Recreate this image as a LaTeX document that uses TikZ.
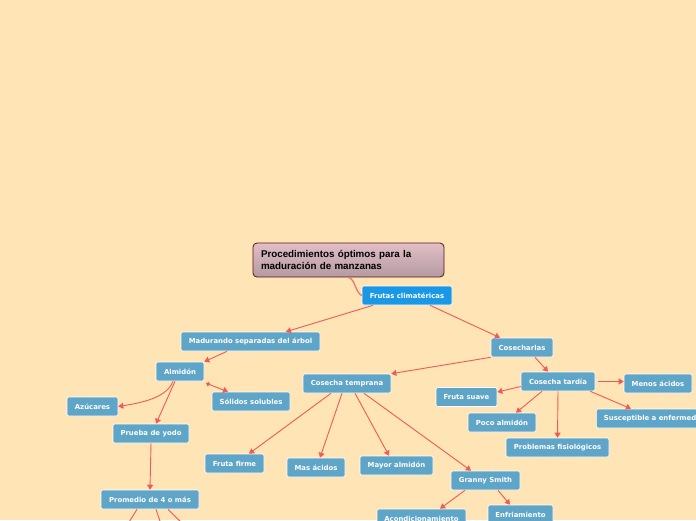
\documentclass[tikz,border=0pt]{standalone}
\usepackage{fontspec}
\setmainfont{DejaVu Sans}
\newfontfamily\titlefont{Liberation Sans}
\usetikzlibrary{arrows.meta,calc}
\definecolor{bgcol}{HTML}{FFE4B5}
\definecolor{nodeblue}{HTML}{5FA5C8}
\definecolor{topblue}{HTML}{1A98E6}
\definecolor{edgecol}{HTML}{F05A5A}
\definecolor{titletop}{HTML}{E2BEC6}
\definecolor{titlebot}{HTML}{B49AA2}
\definecolor{titleborder}{HTML}{5A1414}
\tikzset{
  box/.style={rectangle, rounded corners=2pt, fill=nodeblue, draw=white, line width=0.6pt,
    text=white, font=\fontsize{6.9}{8}\selectfont\bfseries, inner sep=0pt, minimum height=19pt},
  edge/.style={draw=edgecol, line width=0.9pt, -{Triangle[width=6pt,length=5pt]}},
  swoosh/.style={draw=edgecol!85!white, line width=1.3pt, line cap=round},
}
\begin{document}
\begin{tikzpicture}[x=1pt,y=-1pt]
\useasboundingbox (0,0) rectangle (696,520);
\clip (0,0) rectangle (696,520);
\fill[bgcol] (0,0) rectangle (696,520);

% title
\node[rectangle, rounded corners=4pt, top color=titletop, bottom color=titlebot, draw=titleborder,
  line width=0.8pt, minimum width=191pt, minimum height=34pt, inner xsep=8pt, inner ysep=0pt,
  text width=175pt, align=left, font=\titlefont\fontsize{9.8}{11.7}\selectfont\bfseries]
  (title) at (348.5,260) {Procedimientos óptimos para la\\maduración de manzanas};

\node[box, fill=topblue, minimum width=90pt] (frutas) at (407,295.5) {Frutas climatéricas};
\node[box, minimum width=139pt] (madur) at (250.5,341.5) {Madurando separadas del árbol};
\node[box, minimum width=62pt] (cosecharlas) at (522,347.5) {Cosecharlas};
\node[box, minimum width=48pt] (almidon) at (180,371.5) {Almidón};
\node[box, minimum width=78pt] (solidos) at (251,401.5) {Sólidos solubles};
\node[box, minimum width=88pt] (temprana) at (347,383.5) {Cosecha temprana};
\node[box, minimum width=61pt] (fsuave) at (466.5,397) {Fruta suave};
\node[box, minimum width=74pt] (tardia) at (558,381.5) {Cosecha tardía};
\node[box, minimum width=68pt] (menos) at (658,383.5) {Menos ácidos};
\node[box, minimum width=126pt, anchor=west] (suscept) at (596,418.5) {Susceptible a enfermedades};
\node[box, minimum width=68pt] (poco) at (502,422.5) {Poco almidón};
\node[box, minimum width=103pt] (problemas) at (557.5,447.5) {Problemas fisiológicos};
\node[box, minimum width=51pt] (azucares) at (92.5,406.5) {Azúcares};
\node[box, minimum width=76pt] (prueba) at (151,433.5) {Prueba de yodo};
\node[box, minimum width=59pt] (ffirme) at (234.5,463.5) {Fruta firme};
\node[box, minimum width=58pt] (masac) at (316,467.5) {Mas ácidos};
\node[box, minimum width=73pt] (mayor) at (396.5,465.5) {Mayor almidón};
\node[box, minimum width=69pt] (granny) at (485.5,480.5) {Granny Smith};
\node[box, minimum width=98pt] (promedio) at (150,499.5) {Promedio de 4 o más};
\node[box, minimum width=89pt] (acond) at (421.5,518.5) {Acondicionamiento};
\node[box, minimum width=65pt] (enfri) at (520.5,514.5) {Enfriamiento};

\coordinate (p1) at (126,527);
\coordinate (p2) at (162,527);
\coordinate (p3) at (186,527);

% connectors
\draw[swoosh] (title.south) .. controls +(7,2) and +(-7,-4) .. (frutas.west);
\draw[edge] ([xshift=-34pt]frutas.south) -- ([xshift=35.5pt]madur.north);
\draw[edge] ([xshift=23pt]frutas.south) -- ([xshift=-22pt]cosecharlas.north);
\draw[edge] ([xshift=-23.5pt]madur.south) -- (almidon.north east);
\draw[edge] ([xshift=-7pt]almidon.south) .. controls +(-6,16) and +(25,-4) .. (azucares.east);
\draw[edge] ([xshift=-5pt]almidon.south) -- ([xshift=5pt]prueba.north);
\draw[draw=edgecol, line width=0.9pt, {Circle[length=4pt]}-{Triangle[width=6pt,length=5pt]}]
  ([xshift=2pt,yshift=-2pt]almidon.south east) -- ([xshift=-23pt]solidos.north);
\draw[edge] (prueba.south) -- (promedio.north);
\draw[edge] ([xshift=-13pt]promedio.south) -- (p1);
\draw[edge] ([xshift=6pt]promedio.south) -- (p2);
\draw[edge] ([xshift=18pt]promedio.south) -- (p3);
\draw[edge] (cosecharlas.south west) -- (temprana.north east);
\draw[edge] ([xshift=13pt]cosecharlas.south) -- ([xshift=-10pt]tardia.north);
\draw[edge] ([xshift=-16pt]temprana.south) -- ([xshift=14.5pt]ffirme.north);
\draw[edge] ([xshift=-5pt]temprana.south) -- ([xshift=4pt]masac.north);
\draw[edge] ([xshift=8pt]temprana.south) -- ([xshift=-7.5pt]mayor.north);
\draw[edge] ([xshift=17pt]temprana.south) -- ([xshift=-14.5pt]granny.north);
\draw[edge] ([xshift=-20.5pt]granny.south) -- ([xshift=18.5pt]acond.north);
\draw[edge] ([xshift=12.5pt]granny.south) -- ([xshift=-10.5pt]enfri.north);
\draw[edge] ([yshift=-5pt]tardia.west) -- ([yshift=5pt]fsuave.east);
\draw[edge] ([xshift=-16pt]tardia.south) -- ([xshift=14pt]poco.north);
\draw[edge] (tardia.south) -- (problemas.north);
\draw[edge] ([xshift=3pt]tardia.east) -- ([yshift=2pt]menos.west);
\draw[edge] ([xshift=-5pt]tardia.south east) -- ([xshift=35pt]suscept.north west);
\end{tikzpicture}
\end{document}
